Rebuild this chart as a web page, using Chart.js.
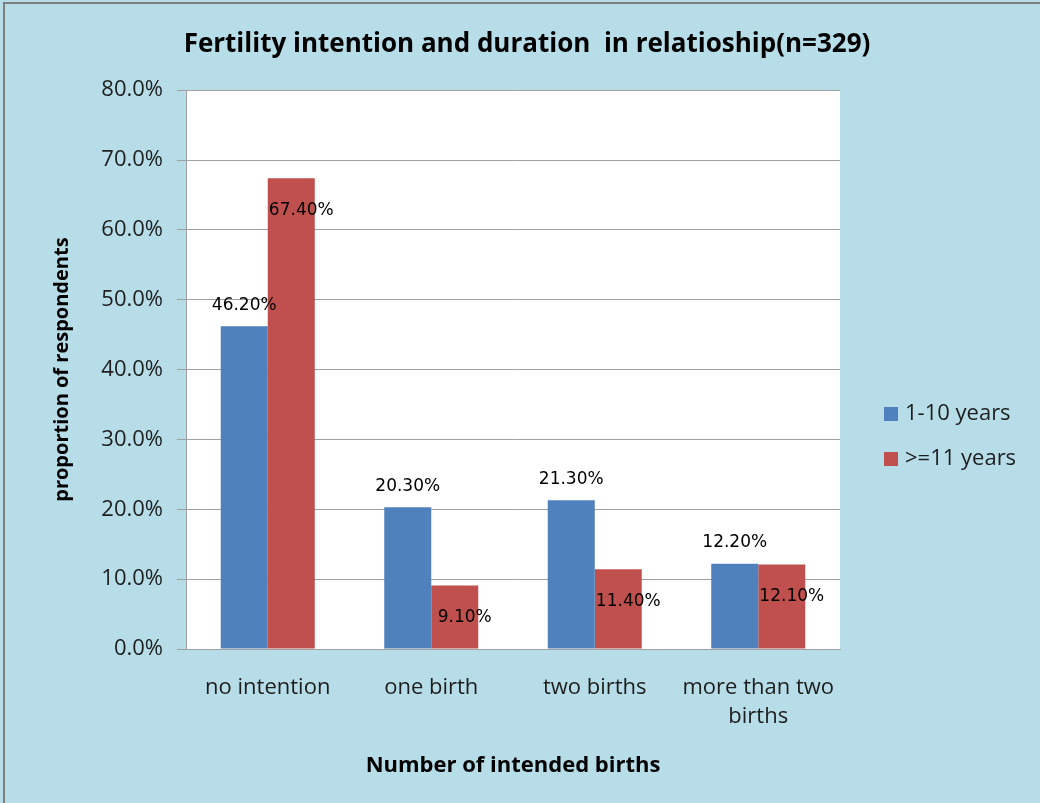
<!DOCTYPE html>
<html>
<head>
    <title>Fertility intention and duration in relationship</title>
    <script src="https://cdn.jsdelivr.net/npm/chart.js"></script>
    <style>
        body { margin: 0; background: #ffffff; }
        #wrap { width: 1040px; height: 803px; position: relative; }
        canvas { position: absolute; left: 0; top: 0; }
    </style>
</head>
<body>
    <div id="wrap">
        <canvas id="myChart" width="1040" height="803"></canvas>
    </div>

    <script>
        // dati
        const categories = ['no intention', 'one birth', 'two births', ['more than two', 'births']];
        const seriesNames = ['1-10 years', '>=11 years'];
        const shortDuration = [46.2, 20.3, 21.3, 12.2];
        const longDuration = [67.4, 9.1, 11.4, 12.1];
        const yTicks = [0, 10, 20, 30, 40, 50, 60, 70, 80];

        const blue = '#4f81bd';
        const red = '#c0504d';
        const textColor = '#1e1e1e';
        const mainFont = '"Open Sans", sans-serif';
        const labelFont = '17px "DejaVu Sans", sans-serif';

        // sfondo azzurro + area del grafico bianca + bordo
        const backgroundPlugin = {
            id: 'background',
            beforeDraw(chart) {
                const ctx = chart.ctx;
                const a = chart.chartArea;
                ctx.save();
                ctx.fillStyle = '#b7dde8';
                ctx.fillRect(0, 0, chart.width, chart.height);
                ctx.fillStyle = '#ffffff';
                ctx.fillRect(a.left, a.top, a.right - a.left, a.bottom - a.top);
                ctx.strokeStyle = '#7f7f7f';
                ctx.lineWidth = 2;
                ctx.beginPath();
                ctx.moveTo(4, chart.height);
                ctx.lineTo(4, 3);
                ctx.lineTo(chart.width, 3);
                ctx.stroke();
                ctx.restore();
            }
        };

        // etichette dei valori sopra / dentro le barre
        const valueLabels = {
            id: 'valueLabels',
            afterDatasetsDraw(chart) {
                const ctx = chart.ctx;
                ctx.save();
                ctx.font = labelFont;
                ctx.fillStyle = '#000000';
                ctx.textAlign = 'center';
                ctx.textBaseline = 'middle';
                chart.data.datasets.forEach((ds, di) => {
                    chart.getDatasetMeta(di).data.forEach((bar, i) => {
                        const txt = ds.data[i].toFixed(2) + '%';
                        if (di === 0) {
                            ctx.fillText(txt, bar.x, bar.y - 21);
                        } else {
                            ctx.fillText(txt, bar.x + 10, bar.y + 32);
                        }
                    });
                });
                ctx.restore();
            }
        };

        // legenda a destra
        const sideLegend = {
            id: 'sideLegend',
            afterDraw(chart) {
                const ctx = chart.ctx;
                ctx.save();
                ctx.font = '22px ' + mainFont;
                ctx.textBaseline = 'middle';
                ctx.textAlign = 'left';
                chart.data.datasets.forEach((ds, i) => {
                    const y = 414 + i * 45;
                    ctx.fillStyle = ds.backgroundColor;
                    ctx.fillRect(884, y - 7, 14, 14);
                    ctx.fillStyle = textColor;
                    ctx.fillText(ds.label, 905, y);
                });
                ctx.restore();
            }
        };

        const ctx = document.getElementById('myChart').getContext('2d');

        new Chart(ctx, {
            type: 'bar',
            data: {
                labels: categories,
                datasets: [{
                    label: seriesNames[0],
                    data: shortDuration,
                    backgroundColor: blue,
                    categoryPercentage: 0.575,
                    barPercentage: 1
                }, {
                    label: seriesNames[1],
                    data: longDuration,
                    backgroundColor: red,
                    categoryPercentage: 0.575,
                    barPercentage: 1
                }]
            },
            options: {
                responsive: false,
                animation: false,
                layout: { padding: { left: 14, right: 0, top: 0, bottom: 0 } },
                plugins: {
                    legend: { display: false },
                    tooltip: { enabled: false },
                    title: {
                        display: true,
                        text: 'Fertility intention and duration  in relatioship(n=329)',
                        color: '#000000',
                        font: { family: mainFont, size: 26, weight: 'bold' },
                        padding: { top: 29, bottom: 30 }
                    }
                },
                scales: {
                    x: {
                        grid: { display: false, drawTicks: false },
                        border: { display: true, color: '#a0a0a0' },
                        ticks: {
                            color: textColor,
                            padding: 24,
                            maxRotation: 0,
                            autoSkip: false,
                            font: { family: mainFont, size: 22, lineHeight: 1.32 }
                        },
                        title: {
                            display: true,
                            text: 'Number of intended births',
                            color: '#000000',
                            font: { family: mainFont, size: 22, weight: 'bold' },
                            padding: { top: 0, bottom: 24 }
                        },
                        afterFit(scale) { scale.height = 154; }
                    },
                    y: {
                        min: 0,
                        max: 80,
                        afterBuildTicks(scale) {
                            scale.ticks = yTicks.map(v => ({ value: v }));
                        },
                        grid: { color: '#a0a0a0', tickLength: 9 },
                        border: { display: true, color: '#a0a0a0' },
                        ticks: {
                            color: textColor,
                            padding: 14,
                            font: { family: mainFont, size: 22 },
                            callback: v => v.toFixed(1) + '%'
                        },
                        title: {
                            display: true,
                            text: 'proportion of respondents',
                            color: '#000000',
                            font: { family: mainFont, size: 20, weight: 'bold' },
                            padding: { top: 36, bottom: 0 }
                        },
                        afterFit(scale) { scale.width = 172; }
                    },
                    // asse fittizio a destra: lascia lo spazio per la legenda
                    yRight: {
                        position: 'right',
                        display: true,
                        grid: { display: false, drawTicks: false },
                        border: { display: false },
                        ticks: { display: false },
                        afterFit(scale) { scale.width = 200; }
                    }
                }
            },
            plugins: [backgroundPlugin, valueLabels, sideLegend]
        });
    </script>
</body>
</html>
